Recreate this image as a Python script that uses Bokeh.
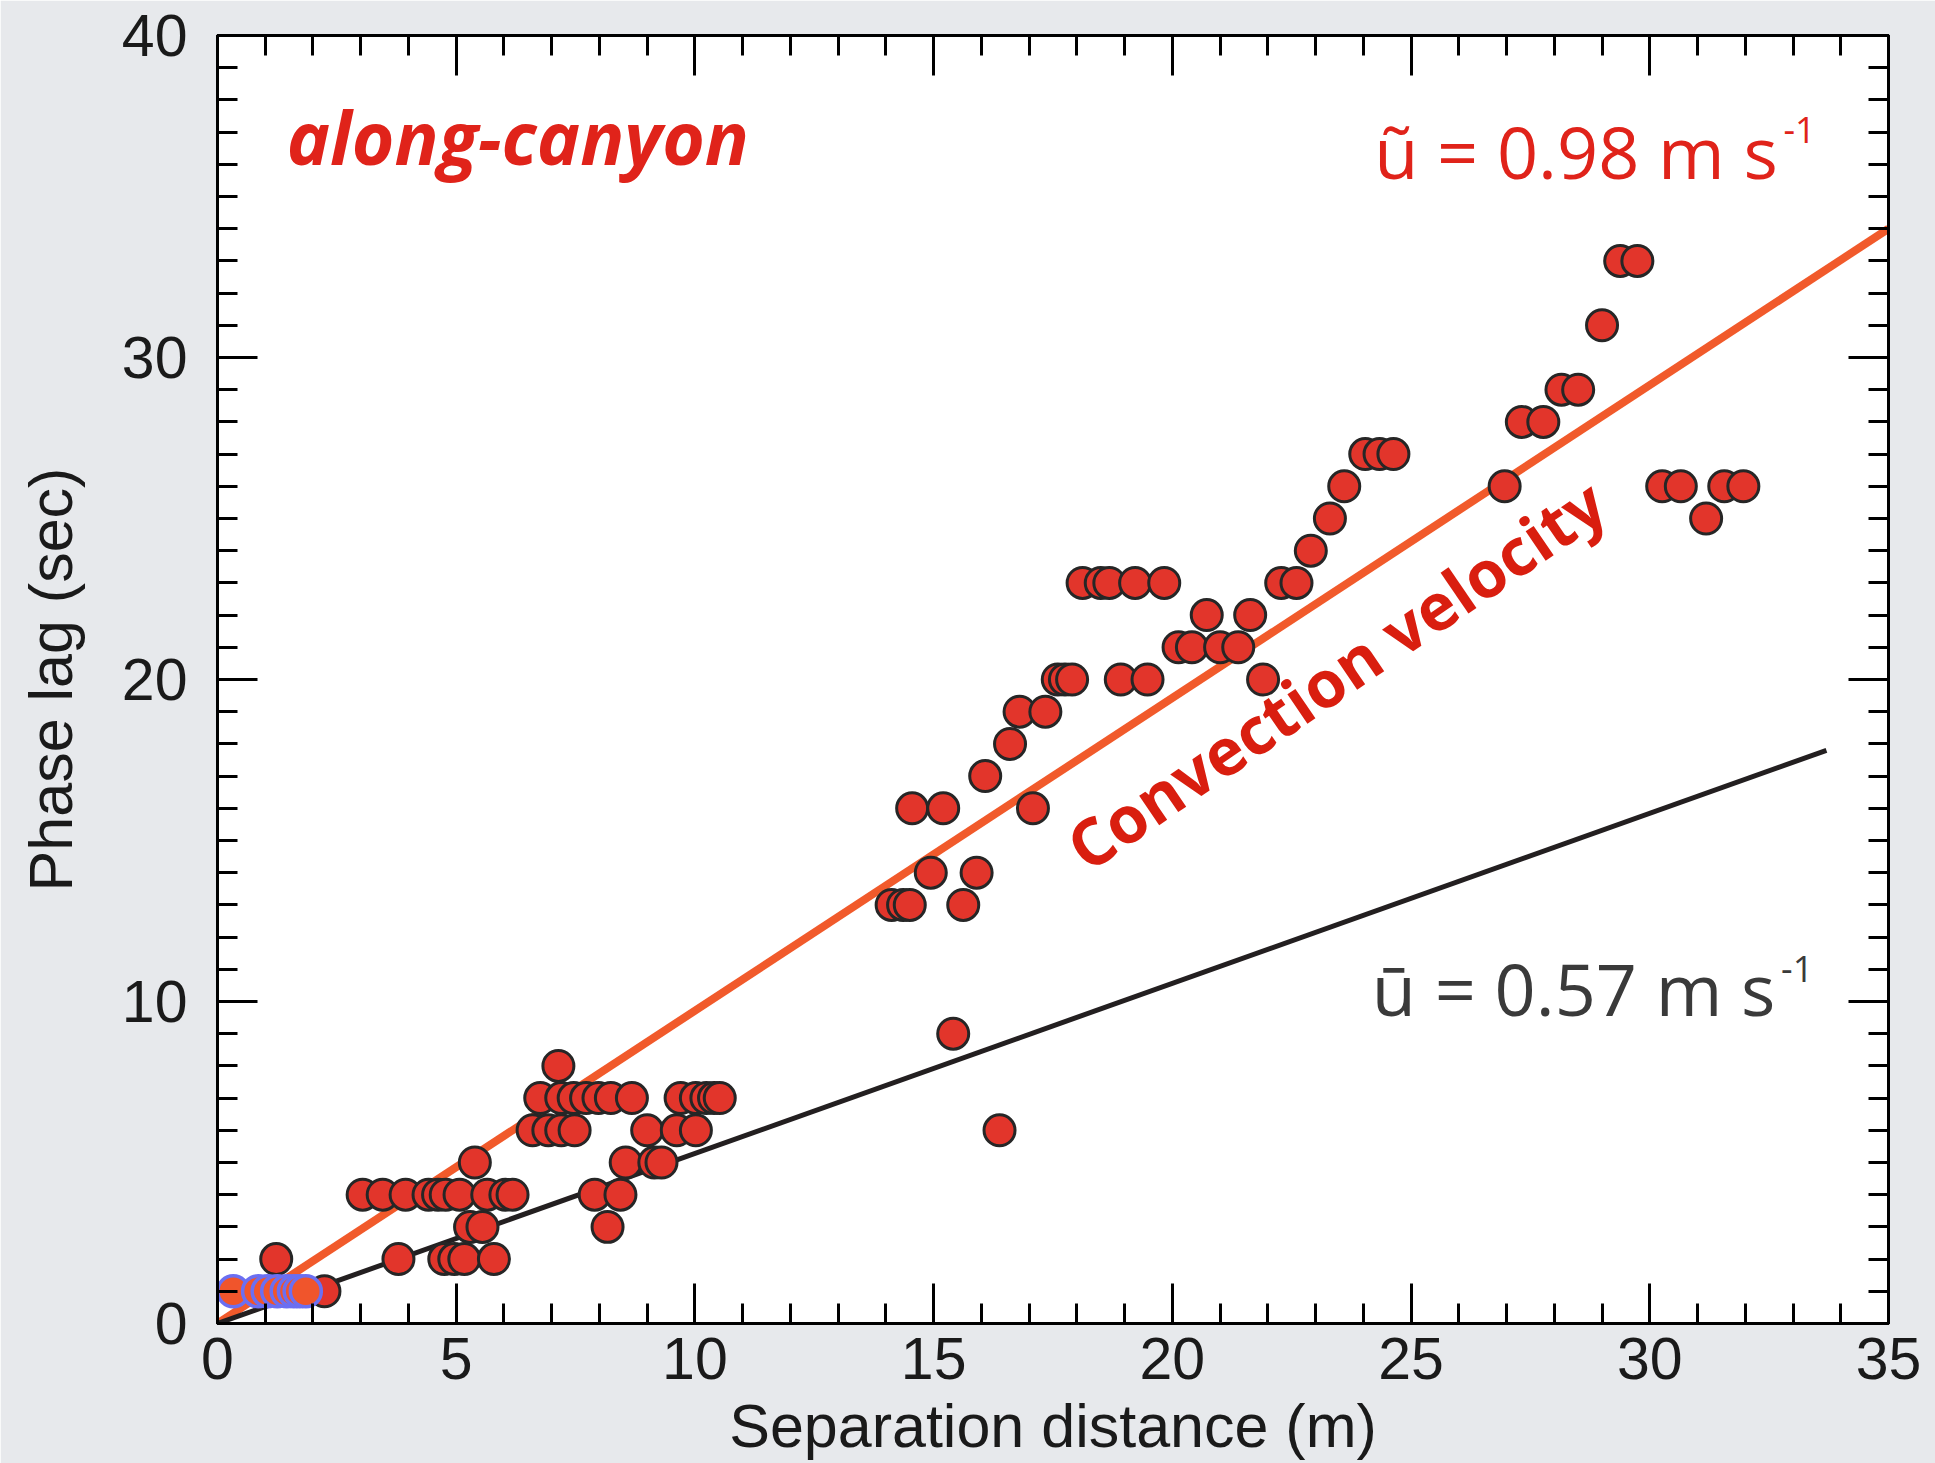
from bokeh.plotting import figure
from bokeh.models import LinearAxis, Range1d, FixedTicker, CustomJSTickFormatter, Label
from bokeh.embed import file_html
from bokeh.resources import INLINE

# ---------------- data ----------------
red_x = [2.24,
         1.23, 3.79, 4.75, 4.96, 5.17, 5.79,
         5.29, 5.55, 8.17,
         3.04, 3.46, 3.94, 4.42, 4.62, 4.78, 5.07, 5.65, 6.03, 6.18, 7.90, 8.44,
         5.39, 8.55, 9.15, 9.30,
         6.60, 6.93, 7.20, 7.48, 9.00, 9.62, 10.02,
         6.76, 7.20, 7.46, 7.72, 7.98, 8.24, 8.68, 9.70, 10.02, 10.24, 10.40, 10.52,
         7.14,
         15.41,
         16.38,
         14.12, 14.36, 14.50, 15.62,
         14.94, 15.90,
         14.55, 15.20, 17.08,
         16.08,
         16.60,
         16.80, 17.34,
         17.60, 17.75, 17.90, 18.92, 19.48, 21.90,
         20.13, 20.41, 21.00, 21.38,
         20.72, 21.63,
         18.12, 18.50, 18.68, 19.22, 19.83, 22.28, 22.60,
         22.90,
         23.30, 31.18,
         23.60, 26.96, 30.26, 30.65, 31.56, 31.96,
         24.04, 24.34, 24.63,
         27.32, 27.77,
         28.15, 28.50,
         29.00,
         29.38, 29.74]
red_y = [1,
         2, 2, 2, 2, 2, 2,
         3, 3, 3,
         4, 4, 4, 4, 4, 4, 4, 4, 4, 4, 4, 4,
         5, 5, 5, 5,
         6, 6, 6, 6, 6, 6, 6,
         7, 7, 7, 7, 7, 7, 7, 7, 7, 7, 7, 7,
         8,
         9,
         6,
         13, 13, 13, 13,
         14, 14,
         16, 16, 16,
         17,
         18,
         19, 19,
         20, 20, 20, 20, 20, 20,
         21, 21, 21, 21,
         22, 22,
         23, 23, 23, 23, 23, 23, 23,
         24,
         25, 25,
         26, 26, 26, 26, 26, 26,
         27, 27, 27,
         28, 28,
         29, 29,
         31,
         33, 33]

blue_x = [0.33, 0.85, 1.05, 1.25, 1.45, 1.60, 1.72, 1.85]
blue_y = [1, 1, 1, 1, 1, 1, 1, 1]

conv_line_x = [0, 35]
conv_line_y = [0, 34]
mean_line_x = [0, 33.7]
mean_line_y = [0, 17.8]

x_major = [0, 5, 10, 15, 20, 25, 30, 35]
y_major = [0, 10, 20, 30, 40]

# ---------------- figure ----------------
p = figure(width=1935, height=1463, x_range=Range1d(0, 35), y_range=Range1d(0, 40),
           output_backend="svg", toolbar_location=None,
           min_border_left=217, min_border_right=47, min_border_top=35, min_border_bottom=140)
p.background_fill_color = "white"
p.border_fill_color = "#e7e9ec"
p.outline_line_color = "black"
p.outline_line_width = 3
p.grid.visible = False

TICK_FONT = "Liberation Sans"

def style_axis(ax):
    ax.major_tick_in = 40
    ax.major_tick_out = 0
    ax.minor_tick_in = 20
    ax.minor_tick_out = 0
    ax.major_tick_line_width = 3
    ax.minor_tick_line_width = 3
    ax.major_tick_line_color = "black"
    ax.minor_tick_line_color = "black"
    ax.axis_line_width = 3
    ax.axis_line_color = "black"
    ax.major_label_text_font = TICK_FONT
    ax.major_label_text_font_size = "59px"
    ax.major_label_text_color = "#1a1a1a"
    ax.axis_label_text_font = TICK_FONT
    ax.axis_label_text_font_size = "61px"
    ax.axis_label_text_font_style = "normal"
    ax.axis_label_text_color = "#1a1a1a"

p.xaxis.ticker = FixedTicker(ticks=x_major, minor_ticks=list(range(0, 36)))
p.yaxis.ticker = FixedTicker(ticks=y_major, minor_ticks=list(range(0, 41)))
style_axis(p.xaxis[0])
style_axis(p.yaxis[0])
p.xaxis.axis_label = "Separation distance (m)"
p.yaxis.axis_label = "Phase lag (sec)"
p.xaxis.major_label_standoff = 14
p.xaxis.axis_label_standoff = 10
p.yaxis.major_label_standoff = 30
p.yaxis.axis_label_standoff = 34

blank = CustomJSTickFormatter(code="return ''")
top = LinearAxis(ticker=FixedTicker(ticks=x_major, minor_ticks=list(range(0, 36))), formatter=blank)
right = LinearAxis(ticker=FixedTicker(ticks=y_major, minor_ticks=list(range(0, 41))), formatter=blank)
style_axis(top)
style_axis(right)
top.major_label_standoff = 0
right.major_label_standoff = 0
p.add_layout(top, "above")
p.add_layout(right, "right")

# lines
p.line(conv_line_x, conv_line_y, line_color="#f15a2b", line_width=8)
p.line(mean_line_x, mean_line_y, line_color="#231f20", line_width=5)

# points
p.scatter(red_x, red_y, marker="circle", size=31, fill_color="#e2352b",
          line_color="#262626", line_width=3)
p.scatter(blue_x, blue_y, marker="circle", size=31, fill_color="#f0552c",
          line_color="#6b6ff2", line_width=3.5)

# texts
p.add_layout(Label(x=1.45, y=36.85, text="along-canyon", text_font="Open Sans",
                   text_font_style="bold italic", text_font_size="73px",
                   text_color="#e0231a", text_baseline="alphabetic"))

p.add_layout(Label(x=32.68, y=36.42, text="ũ = 0.98 m s", text_font="Open Sans",
                   text_font_size="72px", text_color="#e0231a",
                   text_align="right", text_baseline="alphabetic"))
p.add_layout(Label(x=32.8, y=37.05, text="-1", text_font="Open Sans",
                   text_font_size="36px", text_color="#e0231a",
                   text_align="left", text_baseline="alphabetic"))

p.add_layout(Label(x=32.63, y=10.43, text="ū = 0.57 m s", text_font="Open Sans",
                   text_font_size="72px", text_color="#3a3a3a",
                   text_align="right", text_baseline="alphabetic"))
p.add_layout(Label(x=32.75, y=11.0, text="-1", text_font="Open Sans",
                   text_font_size="36px", text_color="#3a3a3a",
                   text_align="left", text_baseline="alphabetic"))

p.add_layout(Label(x=17.93, y=14.6, text="Convection velocity", text_font="Open Sans",
                   text_font_style="bold", text_font_size="65px", text_color="#d91e0f",
                   angle=0.6, text_align="left", text_baseline="alphabetic"))

open("out.html", "w").write(file_html(p, INLINE))
